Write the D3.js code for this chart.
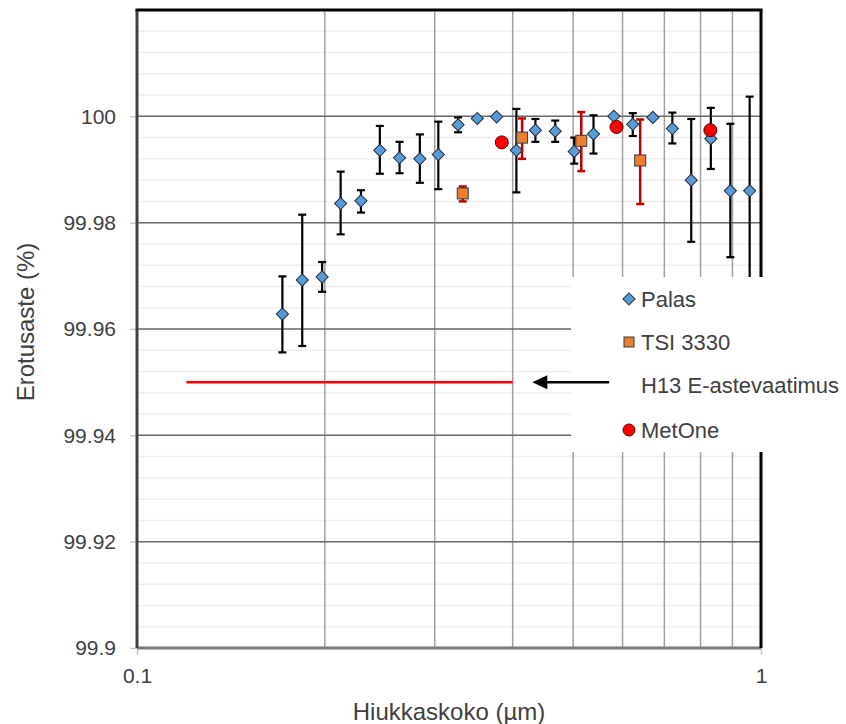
<!DOCTYPE html>
<html>
<head>
<meta charset="utf-8">
<script src="https://cdn.jsdelivr.net/npm/d3@7"></script>
<style>
  body { margin: 0; background: #fff; }
  text { font-family: "Liberation Sans", Arial, sans-serif; fill: #404040; }
</style>
</head>
<body>
<svg id="chart" width="846" height="724"></svg>
<script>
// Palas: size (um), efficiency (%), lower / upper end of error bar
const palasX  = [0.171, 0.184, 0.198, 0.212, 0.2285, 0.245, 0.2635, 0.284, 0.304, 0.327, 0.351, 0.377, 0.4055,
                 0.435, 0.468, 0.502, 0.539, 0.581, 0.623, 0.671, 0.721, 0.773, 0.831, 0.893, 0.959];
const palasY  = [99.9628, 99.9692, 99.9698, 99.9836, 99.9841, 99.9936, 99.9922, 99.9920, 99.9928, 99.9984, 99.9996, 99.9999, 99.9936,
                 99.9974, 99.9972, 99.9934, 99.9967, 100.0000, 99.9985, 99.9998, 99.9977, 99.9880, 99.9958, 99.9860, 99.9860];
const palasLo = [99.9556, 99.9568, 99.9670, 99.9778, 99.9819, 99.9892, 99.9893, 99.9875, 99.9863, 99.9970, 99.9996, 99.9999, 99.9857,
                 99.9952, 99.9952, 99.9911, 99.9930, 100.0000, 99.9963, 99.9998, 99.9949, 99.9764, 99.9901, 99.9735, 99.9683];
const palasHi = [99.9699, 99.9815, 99.9726, 99.9896, 99.9861, 99.9982, 99.9952, 99.9966, 99.9990, 99.9998, 99.9996, 99.9999, 100.0014,
                 99.9995, 99.9992, 99.9960, 100.0002, 100.0000, 100.0006, 99.9998, 100.0007, 99.9995, 100.0016, 99.9986, 100.0037];

// TSI 3330
const tsiX  = [0.3327, 0.4141, 0.5152, 0.6403];
const tsiY  = [99.9855, 99.9960, 99.9954, 99.9917];
const tsiLo = [99.9840, 99.9920, 99.9897, 99.9835];
const tsiHi = [99.9868, 99.9996, 100.0008, 99.9994];

// MetOne
const metX = [0.3842, 0.5868, 0.8296];
const metY = [99.9951, 99.9980, 99.9974];

// H13 E class requirement line and the arrow pointing at it
const h13X = [0.12, 0.4];
const h13Y = 99.95;
const arrowX = [0.571, 0.430];

const yTicks = [99.9, 99.92, 99.94, 99.96, 99.98, 100];
const yTickLabels = ["99.9", "99.92", "99.94", "99.96", "99.98", "100"];
const yMinor = d3.range(99.904, 100.02, 0.004);
const xTicks = [0.1, 1];
const xTickLabels = ["0.1", "1"];
const xGrid = [0.2, 0.3, 0.4, 0.5, 0.6, 0.7, 0.8, 0.9];
const legendLabels = ["Palas", "TSI 3330", "H13 E-astevaatimus", "MetOne"];

const pLeft = 137, pRight = 761, pTop = 10, pBottom = 648;
const svg = d3.select("#chart");

const x = d3.scaleLog().domain([0.1, 1]).range([pLeft, pRight]);
const y = d3.scaleLinear().domain([99.9, 100.02]).range([pBottom, pTop]);

// minor horizontal grid
svg.append("g").selectAll("line").data(yMinor).enter().append("line")
  .attr("x1", pLeft).attr("x2", pRight)
  .attr("y1", d => y(d)).attr("y2", d => y(d))
  .attr("stroke", "#efefef").attr("stroke-width", 1.5);

// vertical grid
svg.append("g").selectAll("line").data(xGrid).enter().append("line")
  .attr("x1", d => x(d)).attr("x2", d => x(d))
  .attr("y1", pTop).attr("y2", pBottom)
  .attr("stroke", "#a0a0a0").attr("stroke-width", 1.5);

// major horizontal grid
svg.append("g").selectAll("line").data(yTicks).enter().append("line")
  .attr("x1", pLeft).attr("x2", pRight)
  .attr("y1", d => y(d)).attr("y2", d => y(d))
  .attr("stroke", "#6a6a6a").attr("stroke-width", 1.5);

// axes
const yAxis = svg.append("g").attr("transform", `translate(${pLeft},0)`)
  .call(d3.axisLeft(y).tickValues(yTicks).tickSize(7).tickPadding(14)
    .tickFormat((d, i) => yTickLabels[i]));
const xAxis = svg.append("g").attr("transform", `translate(0,${pBottom})`)
  .call(d3.axisBottom(x).tickValues(xTicks).tickSize(7).tickPadding(13)
    .tickFormat((d, i) => xTickLabels[i]));
[yAxis, xAxis].forEach(a => {
  a.select(".domain").remove();
  a.selectAll(".tick line").attr("stroke", "#c8c8c8").attr("stroke-width", 1.5);
  a.selectAll(".tick text").attr("font-size", 21).attr("fill", "#404040")
    .style("font-family", '"Liberation Sans", Arial, sans-serif');
});

// plot borders
svg.append("line").attr("x1", pLeft).attr("x2", pRight).attr("y1", pBottom).attr("y2", pBottom)
  .attr("stroke", "#7a7a7a").attr("stroke-width", 3);
svg.append("line").attr("x1", pLeft).attr("x2", pLeft).attr("y1", pTop).attr("y2", pBottom)
  .attr("stroke", "#404040").attr("stroke-width", 3);
svg.append("line").attr("x1", pLeft - 1.5).attr("x2", pRight + 1.5).attr("y1", pTop).attr("y2", pTop)
  .attr("stroke", "#000").attr("stroke-width", 3);
svg.append("line").attr("x1", pRight).attr("x2", pRight).attr("y1", pTop).attr("y2", pBottom)
  .attr("stroke", "#000").attr("stroke-width", 3);

// requirement line
svg.append("line")
  .attr("x1", x(h13X[0])).attr("x2", x(h13X[1]))
  .attr("y1", y(h13Y)).attr("y2", y(h13Y))
  .attr("stroke", "#ff0000").attr("stroke-width", 2.5);

function errorBars(xs, lo, hi, color, width) {
  const g = svg.append("g").attr("stroke", color).attr("stroke-width", width);
  xs.forEach((v, i) => {
    if (hi[i] - lo[i] < 0.0002) return;
    const cx = x(v);
    g.append("line").attr("x1", cx).attr("x2", cx).attr("y1", y(lo[i])).attr("y2", y(hi[i]));
    g.append("line").attr("x1", cx - 4).attr("x2", cx + 4).attr("y1", y(lo[i])).attr("y2", y(lo[i]));
    g.append("line").attr("x1", cx - 4).attr("x2", cx + 4).attr("y1", y(hi[i])).attr("y2", y(hi[i]));
  });
}

const diamond = d3.symbol().type(d3.symbolSquare).size(74);

// Palas
errorBars(palasX, palasLo, palasHi, "#000", 2.2);
svg.append("g").selectAll("path").data(palasX).enter().append("path")
  .attr("d", diamond)
  .attr("transform", (d, i) => `translate(${x(d)},${y(palasY[i])}) rotate(45)`)
  .attr("fill", "#5b9bd5").attr("stroke", "#1f2f44").attr("stroke-width", 1);

// TSI
errorBars(tsiX, tsiLo, tsiHi, "#c00000", 2.5);
svg.append("g").selectAll("rect").data(tsiX).enter().append("rect")
  .attr("x", d => x(d) - 5.5).attr("y", (d, i) => y(tsiY[i]) - 5.5)
  .attr("width", 11).attr("height", 11)
  .attr("fill", "#ed7d31").attr("stroke", "#3a3a3a").attr("stroke-width", 1);

// MetOne
svg.append("g").selectAll("circle").data(metX).enter().append("circle")
  .attr("cx", d => x(d)).attr("cy", (d, i) => y(metY[i])).attr("r", 6.5)
  .attr("fill", "#ff0000").attr("stroke", "#5a0000").attr("stroke-width", 1);

// legend box
const lg = svg.append("g");
lg.append("rect").attr("x", 571).attr("y", 277).attr("width", 275).attr("height", 175).attr("fill", "#fff");
const ly = [299, 342, 385, 430];
legendLabels.forEach((t, i) => {
  lg.append("text").attr("x", 641).attr("y", ly[i]).attr("dy", "0.36em")
    .attr("font-size", 22).text(t);
});
lg.append("path").attr("d", diamond).attr("transform", `translate(629,${ly[0]}) rotate(45)`)
  .attr("fill", "#5b9bd5").attr("stroke", "#1f2f44").attr("stroke-width", 1);
lg.append("rect").attr("x", 624).attr("y", ly[1] - 5).attr("width", 10).attr("height", 10)
  .attr("fill", "#ed7d31").attr("stroke", "#3a3a3a").attr("stroke-width", 1);
lg.append("circle").attr("cx", 629).attr("cy", ly[3]).attr("r", 6)
  .attr("fill", "#ff0000").attr("stroke", "#5a0000").attr("stroke-width", 1);

// arrow
const ax0 = x(arrowX[0]), ax1 = x(arrowX[1]), ay = y(h13Y);
svg.append("line").attr("x1", ax0).attr("x2", ax1 + 12).attr("y1", ay).attr("y2", ay)
  .attr("stroke", "#000").attr("stroke-width", 2.5);
svg.append("path")
  .attr("d", `M${ax1},${ay} L${ax1 + 15},${ay - 7} L${ax1 + 15},${ay + 7} Z`)
  .attr("fill", "#000");

// axis titles
svg.append("text").attr("x", (pLeft + pRight) / 2).attr("y", 711).attr("dy", "0.36em")
  .attr("text-anchor", "middle").attr("font-size", 24).text("Hiukkaskoko (µm)");
svg.append("text").attr("transform", `translate(25,322) rotate(-90)`)
  .attr("dy", "0.36em").attr("text-anchor", "middle").attr("font-size", 24).text("Erotusaste (%)");
</script>
</body>
</html>
